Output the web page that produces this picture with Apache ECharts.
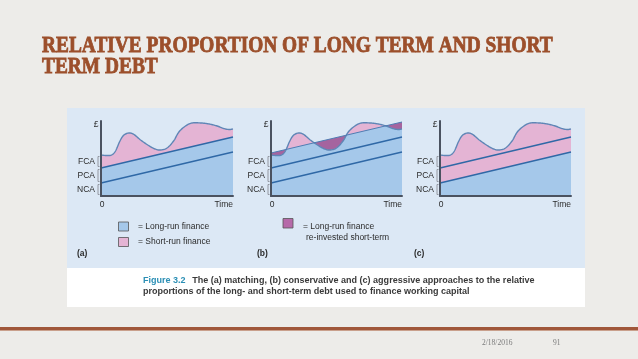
<!DOCTYPE html>
<html><head><meta charset="utf-8">
<script src="https://cdn.jsdelivr.net/npm/echarts@6/dist/echarts.min.js"></script>
<style>html,body{margin:0;padding:0;background:#edece9;}#c{width:638px;height:359px;}</style>
</head><body><div id="c"></div>
<script>
// ---------- data ----------
const timeX = [0,4,8,11,14,17,21,25,30,36,41,45,50,55,59,64,69,76,82,88,93,97,100];
const assetCurve = [41,40.5,41,45,54,60.5,63,61.5,56,50.5,47,46,48,55,64,70,73,73,72,70,67.5,66.5,67];
const lineX = [0,100];
const ncaLine = [13,44];
const pcaLine = [28,59];
const longRunLineB = [43,74];
const bracketLevels = [0,13,28,41];
const bracketLabels = ['NCA','PCA','FCA'];
const panelNames = ['(a)','(b)','(c)'];
const legendA = ['= Long-run finance','= Short-run finance'];
const legendB = ['= Long-run finance','re-invested short-term'];
const xTickLabels = ['0','Time'];
const yAxisSymbol = '£';
const titleLines = ['RELATIVE PROPORTION OF LONG TERM AND SHORT','TERM DEBT'];
const captionHead = 'Figure 3.2';
const captionLines = ['The (a) matching, (b) conservative and (c) aggressive approaches to the relative',
                      'proportions of the long- and short-term debt used to finance working capital'];
const footerDate = '2/18/2016';
const footerPage = '91';

// ---------- styles ----------
const COL = {bg:'#edece9', panel:'#dce8f5', blue:'#a5c8ea', pink:'#e4b4d4', purple:'#a5649f',
  line:'#2f68a6', curve:'#5f86b6', axis:'#4a5260', text:'#2b2b2b', bracket:'#8a8f99'};
const SANS = '"Liberation Sans", Arial, sans-serif';
const SERIF = '"Liberation Serif", serif';

const mctx = document.createElement('canvas').getContext('2d');
function fitSize(text, font, weight, target){
  mctx.font = weight + ' 100px ' + font;
  return 100 * target / mctx.measureText(text).width;
}
const titleSize = fitSize(titleLines[0], SERIF, 'bold', 511);
const capSize = fitSize(captionHead + '  ' + captionLines[0], SANS, 'bold', 390);

function densify(pts, steps){
  const out = [], n = pts.length;
  for (let i = 0; i < n - 1; i++){
    const p0 = pts[Math.max(i-1,0)], p1 = pts[i], p2 = pts[i+1], p3 = pts[Math.min(i+2,n-1)];
    for (let s = 0; s < steps; s++){
      const t = s/steps, t2 = t*t, t3 = t2*t;
      const f = k => 0.5*((2*p1[k]) + (-p0[k]+p2[k])*t + (2*p0[k]-5*p1[k]+4*p2[k]-p3[k])*t2 + (-p0[k]+3*p1[k]-3*p2[k]+p3[k])*t3);
      out.push([f(0), f(1)]);
    }
  }
  out.push(pts[n-1]);
  return out;
}
function minTop(curve, L){
  const ly = x => L[0][1] + (L[1][1]-L[0][1])*(x-L[0][0])/(L[1][0]-L[0][0]);
  const out = [];
  for (let i = 0; i < curve.length; i++){
    const p = curve[i];
    if (i > 0){
      const q = curve[i-1], d0 = q[1]-ly(q[0]), d1 = p[1]-ly(p[0]);
      if (d0*d1 < 0){ const t = d0/(d0-d1); const x = q[0]+(p[0]-q[0])*t; out.push([x, ly(x)]); }
    }
    out.push([p[0], Math.max(p[1], ly(p[0]))]);
  }
  return out;
}

function makeRender(panel){
  return function(params, api){
    if (params.dataIndex !== 0) return null;
    const c = v => api.coord(v);
    const b0 = c([lineX[0],0]), b1 = c([lineX[1],0]);
    const curve = densify(timeX.map((t,i) => c([t, assetCurve[i]])), 10);
    const seg = arr => [c([lineX[0],arr[0]]), c([lineX[1],arr[1]])];
    const nca = seg(ncaLine), pca = seg(pcaLine), lrb = seg(longRunLineB);
    const ch = [];
    const poly = (pts, fill) => ch.push({type:'polygon', shape:{points:pts}, style:{fill:fill, stroke:null}});
    const pl = (pts, stroke, w) => ch.push({type:'polyline', shape:{points:pts}, style:{stroke:stroke, lineWidth:w, fill:null}});
    const txt = (x,y,s,al,va,size,weight) => ch.push({type:'text', x:x, y:y, style:{text:s, fill:COL.text, fontSize:size||8, fontFamily:SANS, fontWeight:weight||'normal', align:al, verticalAlign:va}});
    if (panel === 0){
      poly([b0].concat(curve,[b1]), COL.pink);
      poly([b0, pca[0], pca[1], b1], COL.blue);
    } else if (panel === 1){
      poly([b0, lrb[0], lrb[1], b1], COL.purple);
      poly([b0].concat(curve,[b1]), COL.pink);
      poly([b0].concat(minTop(curve, lrb),[b1]), COL.blue);
    } else {
      poly([b0].concat(curve,[b1]), COL.pink);
      poly([b0, nca[0], nca[1], b1], COL.blue);
    }
    pl(curve, COL.curve, 1.4);
    pl(nca, COL.line, 1.4);
    pl(pca, COL.line, 1.4);
    if (panel === 1) pl(lrb, '#4f7db3', 1);
    for (let j = 0; j < 3; j++){
      const ya = c([0, bracketLevels[j]])[1] - 1.5, yb = c([0, bracketLevels[j+1]])[1] + 1.5;
      const x = b0[0] - 3;
      pl([[x+1.5,yb],[x,yb],[x,ya],[x+1.5,ya]], COL.bracket, 0.9);
      txt(b0[0]-6, (ya+yb)/2, bracketLabels[j], 'right', 'middle', 8.5);
    }
    const top = c([0, 75]);
    txt(top[0]-5, top[1]+4, yAxisSymbol, 'center', 'middle', 8.5);
    txt(b0[0]+1, b0[1]+4, xTickLabels[0], 'center', 'top', 8.5);
    txt(b1[0], b1[1]+4, xTickLabels[1], 'right', 'top', 8.5);
    return {type:'group', children:ch};
  };
}

const grids = [{left:101, top:121, width:132, height:75},{left:271, top:121, width:131, height:75},{left:440, top:121, width:131, height:75}];
const axisLine = {show:true, onZero:false, lineStyle:{color:COL.axis, width:2}};
const titleStyle = {fill:'#9c4f2b', stroke:'#9c4f2b', lineWidth:0.7, fontSize:titleSize, fontFamily:SERIF, fontWeight:'bold', verticalAlign:'middle'};
const option = {
  backgroundColor: COL.bg,
  animation: false,
  grid: grids,
  xAxis: grids.map((g,i) => ({type:'value', gridIndex:i, min:0, max:100, axisLine:axisLine, axisTick:{show:false}, axisLabel:{show:false}, splitLine:{show:false}, z:5})),
  yAxis: grids.map((g,i) => ({type:'value', gridIndex:i, min:0, max:75, axisLine:axisLine, axisTick:{show:false}, axisLabel:{show:false}, splitLine:{show:false}, z:5})),
  series: [0,1,2].map(i => ({type:'custom', xAxisIndex:i, yAxisIndex:i, clip:false, silent:true,
    data: timeX.map((t,k) => [t, assetCurve[k]]), renderItem: makeRender(i), z:2})),
  graphic: {elements: [
    {type:'rect', z:-10, shape:{x:67, y:108, width:518, height:199}, style:{fill:'#ffffff'}},
    {type:'rect', z:-9, shape:{x:67, y:108, width:518, height:160}, style:{fill:COL.panel}},
    {type:'text', z:10, x:42, y:46.5, scaleY:1.15, style:Object.assign({text:titleLines[0]}, titleStyle)},
    {type:'text', z:10, x:42, y:67, scaleY:1.15, style:Object.assign({text:titleLines[1]}, titleStyle)},
    {type:'rect', z:10, shape:{x:118.5, y:222, width:10, height:9}, style:{fill:COL.blue, stroke:'#555', lineWidth:0.8}},
    {type:'rect', z:10, shape:{x:118.5, y:237.5, width:10, height:9}, style:{fill:COL.pink, stroke:'#555', lineWidth:0.8}},
    {type:'text', z:10, x:138, y:226.5, style:{text:legendA[0], fill:COL.text, fontSize:8.5, fontFamily:SANS, verticalAlign:'middle'}},
    {type:'text', z:10, x:138, y:242, style:{text:legendA[1], fill:COL.text, fontSize:8.5, fontFamily:SANS, verticalAlign:'middle'}},
    {type:'rect', z:10, shape:{x:283, y:218.5, width:10, height:9.5}, style:{fill:'#b66aa9', stroke:'#555', lineWidth:0.8}},
    {type:'text', z:10, x:303, y:226.5, style:{text:legendB[0], fill:COL.text, fontSize:8.5, fontFamily:SANS, verticalAlign:'middle'}},
    {type:'text', z:10, x:306, y:237.5, style:{text:legendB[1], fill:COL.text, fontSize:8.5, fontFamily:SANS, verticalAlign:'middle'}},
    {type:'text', z:10, x:77, y:254, style:{text:panelNames[0], fill:COL.text, fontSize:8.5, fontFamily:SANS, fontWeight:'bold', verticalAlign:'middle'}},
    {type:'text', z:10, x:257, y:254, style:{text:panelNames[1], fill:COL.text, fontSize:8.5, fontFamily:SANS, fontWeight:'bold', verticalAlign:'middle'}},
    {type:'text', z:10, x:414, y:254, style:{text:panelNames[2], fill:COL.text, fontSize:8.5, fontFamily:SANS, fontWeight:'bold', verticalAlign:'middle'}},
    {type:'text', z:10, x:143, y:281, style:{text:'{h|' + captionHead + '}  {t|' + captionLines[0] + '}', verticalAlign:'middle',
      rich:{h:{fill:'#2b8fb5', fontSize:capSize, fontFamily:SANS, fontWeight:'bold'}, t:{fill:'#3a3a3a', fontSize:capSize, fontFamily:SANS, fontWeight:'bold'}}}},
    {type:'text', z:10, x:143, y:291.5, style:{text:captionLines[1], fill:'#3a3a3a', fontSize:capSize, fontFamily:SANS, fontWeight:'bold', verticalAlign:'middle'}},
    {type:'rect', z:10, shape:{x:0, y:327, width:638, height:3}, style:{fill:'#a0573a'}},
    {type:'rect', z:10, shape:{x:0, y:330, width:638, height:1}, style:{fill:'#c9a08c'}},
    {type:'text', z:10, x:482, y:343, style:{text:footerDate, fill:'#7a7a7a', fontSize:7.5, fontFamily:SERIF, verticalAlign:'middle'}},
    {type:'text', z:10, x:553, y:343, style:{text:footerPage, fill:'#7a7a7a', fontSize:7.5, fontFamily:SERIF, verticalAlign:'middle'}}
  ]}
};
const chart = echarts.init(document.getElementById('c'), null, {renderer:'canvas', width:638, height:359});
chart.setOption(option);
</script></body></html>
